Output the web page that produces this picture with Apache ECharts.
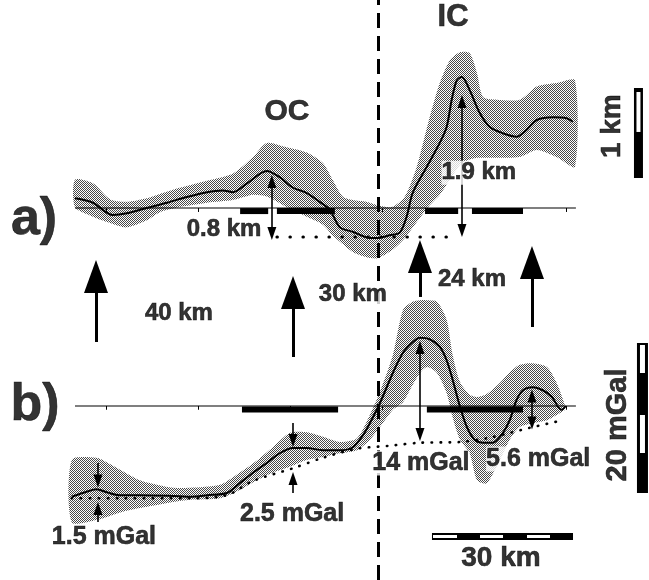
<!DOCTYPE html>
<html>
<head>
<meta charset="utf-8">
<script src="https://cdn.jsdelivr.net/npm/echarts@6/dist/echarts.min.js"></script>
<style>
  html, body { margin: 0; padding: 0; background: #fff; }
  #chart { width: 649px; height: 580px; }
</style>
</head>
<body>
<div id="chart"></div>
<script>
// distance along the profile in km (0 near the dashed line)
// a) relief in km, b) gravity in mGal
const aDist = [-66.7,-62.8,-58.5,-55.4,-51.1,-46.7,-42.4,-38.0,-34.6,-32.4,-29.3,-25.0,-22.2,-19.3,-16.3,-13.5,-11.3,-9.1,-6.3,-2.6,-0.9,1.7,3.9,5.4,6.7,9.8,12.6,14.1,15.2,16.3,17.4,19.1,21.3,23.5,26.3,29.3,31.5,33.7,37.2,40.2,41.5];
const aMean = [0.11,0.06,-0.08,-0.06,0,0.06,0.125,0.18,0.20,0.18,0.28,0.42,0.35,0.23,0.17,0.07,-0.02,-0.22,-0.27,-0.34,-0.34,-0.31,-0.28,-0.10,0.17,0.47,0.74,0.92,1.23,1.45,1.49,1.34,1.08,0.92,0.85,0.81,0.89,1.0,1.03,1.02,0.98];

const aEnvDist = [-66.7,-62.8,-59.1,-55.4,-51.1,-48.3,-43.9,-38.0,-32.4,-28.0,-25.0,-20.7,-16.3,-12.8,-10.7,-8.5,-6.3,-3.3,-0.9,2.2,5.0,7.6,10.4,12.6,14.8,17.0,19.1,20.7,22.0,25.0,30.0,33.7,38.0,42.0];
const aUpper = [0.32,0.28,0.10,0.07,0.11,0.16,0.23,0.31,0.39,0.58,0.74,0.69,0.63,0.51,0.32,0.13,0.09,0.07,0.03,0.01,0.13,0.47,1.03,1.42,1.68,1.77,1.76,1.53,1.26,1.23,1.23,1.38,1.42,1.45];
const aLower = [0.01,-0.10,-0.17,-0.22,-0.14,-0.05,0.01,0.06,0.09,0.15,0.13,0.01,-0.10,-0.19,-0.31,-0.41,-0.50,-0.56,-0.57,-0.48,-0.34,-0.16,0.03,0.15,0.32,0.49,0.55,0.57,0.57,0.57,0.58,0.66,0.58,0.47];

const aDotDist = [-22.8, 16.6];
const aDot = [-0.33, -0.33];

const bDist = [-67.4,-65.0,-62.0,-59.8,-57.0,-52.6,-45.4,-41.7,-38.0,-33.7,-30.9,-28.0,-25.0,-22.2,-19.3,-16.3,-12.8,-9.1,-6.3,-4.1,-2.6,-0.4,2.4,4.6,6.7,8.3,10.4,12.6,14.1,15.4,17.0,18.5,20.2,22.0,24.1,26.3,27.8,29.3,30.7,32.8,35.0,37.0,38.3,39.1,40.0];
const bMean = [-12.1,-11.6,-11.1,-11.5,-11.9,-11.9,-12.0,-12.1,-11.9,-11.6,-10.3,-8.9,-7.6,-6.3,-5.6,-5.6,-5.9,-5.9,-5.5,-3.9,-2.3,0.4,4.4,7.1,8.5,9.1,8.9,7.9,6.1,3.5,-0.1,-2.8,-4.5,-4.9,-4.9,-3.6,-1.9,0.8,2.1,2.5,2.1,1.2,-0.1,-0.5,0.0];

const bEnvDist = [-67.4,-62.0,-59.8,-56.3,-52.6,-48.9,-45.4,-41.7,-35.2,-30.9,-27.2,-23.7,-20.0,-16.3,-12.8,-9.1,-5.4,-2.6,-0.4,2.4,4.6,6.7,8.3,9.8,12.0,14.1,15.4,17.0,19.1,20.7,22.8,25.7,27.8,30.0,32.8,35.9,38.0,39.8];
const bUpper = [-7.2,-6.9,-7.5,-8.7,-9.9,-10.5,-10.9,-10.9,-10.5,-8.9,-7.3,-5.5,-3.6,-3.5,-4.1,-4.8,-4.3,-1.2,1.9,6.8,12.8,13.9,14.1,14.1,13.9,11.5,6.8,3.2,1.5,1.2,1.6,3.1,4.5,5.5,5.7,5.2,3.1,0.1];
const bLower = [-15.5,-15.2,-14.8,-14.1,-13.6,-13.2,-12.8,-12.5,-12.3,-11.2,-9.9,-8.9,-8.1,-7.2,-6.8,-6.3,-5.9,-4.5,-2.8,-0.5,0.5,2.8,4.4,5.2,4.4,1.7,-1.5,-4.5,-6.3,-9.9,-10.3,-7.2,-4.5,-2.8,-2.3,-1.9,-1.2,-0.5];

const bDotDist = [-67.4,-57.0,-41.7,-33.7,-28.0,-19.3,-12.8,-5.4,1.7,8.3,17.0,22.8,27.8,32.2,39.3];
const bDot = [-12.3,-12.3,-12.3,-11.9,-10.0,-8.3,-6.9,-5.7,-5.3,-4.9,-4.8,-4.3,-3.6,-2.9,-1.9];

const baseRange = [-66.7, 42.2];
const tickKm = [-60, -40, -20, 0, 20, 40];
const riftKm = -0.83;

// thick bars on the zero lines [from, to]
const aBars = [[-30.8,-24.7],[-22.8,-10.2],[9.4,16.6],[19.6,30.7]];
const bBars = [[-30.4,-9.5],[9.8,30.7]];

// arrows [dist, from, to]
const aArrowsBoth = [[-23.9,-0.29,0.30],[17.43,-0.256,1.21]];
const bArrowsBoth = [[8.3,-3.8,7.8],[32.65,-2.27,1.33]];
const bArrowsOne = [[-61.7,-7.6,-10.0],[-61.7,-15.47,-13.67],[-19.3,-2.27,-4.6],[-19.3,-11.6,-9.67]];
const spreadArrows = [[-62.13,-1.523,-0.778],[-19.3,-1.693,-0.96],[8.3,-1.011,-0.551],[32.65,-1.352,-0.619]];

// labels [text, dist, value]
const aLabels = [['OC',-20.6,1.09],['IC',15.5,2.16],['a)',-75.6,-0.13],['0.8 km',-34.3,-0.24],['1.9 km',21.1,0.40],['40 km',-44.1,-1.20],['30 km',-6.3,-0.98],['24 km',19.6,-0.81],['1 km',50.0,0.93]];
const bLabels = [['b)',-75.4,0.10],['1.5 mGal',-60.4,-17.47],['2.5 mGal',-19.5,-14.4],['14 mGal',8.5,-7.6],['5.6 mGal',34.0,-7.07],['20 mGal',51.35,-2.53],['30 km ',25.9,-20.27]];

const labelStyle = {
  'OC': {fontSize: 30}, 'IC': {fontSize: 31}, 'a)': {fontSize: 52}, 'b)': {fontSize: 52},
  '1.9 km': {backgroundColor: '#fff'}, '30 km': {backgroundColor: '#fff', padding: [0, 2]},
  '14 mGal': {backgroundColor: '#fff', fontSize: 25}, '5.6 mGal': {backgroundColor: '#fff', fontSize: 25},
  '1.5 mGal': {fontSize: 25}, '2.5 mGal': {fontSize: 25},
  '1 km': {fontSize: 28, rotate: 90}, '20 mGal': {fontSize: 29, rotate: 90}, '30 km ': {fontSize: 28}
};

const FONT = "'Liberation Sans', Arial, Helvetica, sans-serif";

function stipple() {
  const c = document.createElement('canvas');
  c.width = 2; c.height = 2;
  const ctx = c.getContext('2d');
  ctx.fillStyle = '#484848';
  ctx.fillRect(0, 0, 1, 1);
  ctx.fillRect(1, 1, 1, 1);
  return c;
}
const dots = stipple();

const zip = (xs, ys) => xs.map((x, i) => [x, ys[i]]);

// shaded envelope: upper edge forward, lower edge back, as one polygon
function band(g, xs, lo, hi) {
  return {type: 'custom', xAxisIndex: g, yAxisIndex: g, silent: true, z: 1,
    data: [[xs[0], lo[0]]],
    renderItem: function (params, api) {
      const pts = xs.map((x, i) => api.coord([x, hi[i]]));
      for (let i = xs.length - 1; i >= 0; i--) pts.push(api.coord([xs[i], lo[i]]));
      return {type: 'polygon', shape: {points: pts, smooth: 0.25},
        style: {fill: {image: dots, repeat: 'repeat'}}};
    }};
}

function line(g, pts, opts) {
  return Object.assign({type: 'line', xAxisIndex: g, yAxisIndex: g, data: pts, symbol: 'none',
    silent: true, z: 3, lineStyle: {color: '#000', width: 2}}, opts);
}

function marks(g, list, syms, size, width) {
  return {type: 'line', xAxisIndex: g, yAxisIndex: g, data: [], silent: true, z: 4,
    markLine: {silent: true, animation: false, symbol: syms, symbolSize: size, label: {show: false},
      lineStyle: {color: '#000', width: width, type: 'solid', opacity: 1},
      emphasis: {disabled: true},
      data: list.map(a => [{coord: [a[0], a[1]]}, {coord: [a[0], a[2]]}])}};
}

function texts(g, list) {
  return {type: 'scatter', xAxisIndex: g, yAxisIndex: g, symbolSize: 1, silent: true, z: 6,
    itemStyle: {color: 'rgba(0,0,0,0)'},
    data: list.map(t => ({name: t[0], value: [t[1], t[2]],
      label: Object.assign({show: true, position: 'inside', formatter: t[0].trim(), color: '#000',
        fontFamily: FONT, fontWeight: 'bold', fontSize: 24,
        textBorderColor: '#000', textBorderWidth: 0.6}, labelStyle[t[0]] || {})}))};
}

const series = [];
series.push(band(0, aEnvDist, aLower, aUpper));
series.push(band(1, bEnvDist, bLower, bUpper));

// zero lines
series.push(line(0, baseRange.map(x => [x, 0]), {z: 2, lineStyle: {color: '#000', width: 1.2}}));
series.push(line(1, baseRange.map(x => [x, 0]), {z: 2, lineStyle: {color: '#000', width: 1.2}}));
series.push(marks(0, tickKm.map(t => [t, 0, -0.045]), ['none', 'none'], 0, 1));
series.push(marks(1, tickKm.map(t => [t, 0, -0.5]), ['none', 'none'], 0, 1));

aBars.forEach(b => series.push(line(0, [[b[0], -0.035], [b[1], -0.035]], {z: 2, lineStyle: {color: '#000', width: 6}})));
bBars.forEach(b => series.push(line(1, [[b[0], -0.47], [b[1], -0.47]], {z: 2, lineStyle: {color: '#000', width: 6}})));

// dotted reference levels
series.push(line(0, zip(aDotDist, aDot), {lineStyle: {color: '#000', width: 3, type: [0.5, 12.5], cap: 'round'}}));
series.push(line(1, zip(bDotDist, bDot), {smooth: 0.3, lineStyle: {color: '#000', width: 2.6, type: [0.5, 8.5], cap: 'round'}}));

// mean profiles
series.push(line(0, zip(aDist, aMean), {smooth: 0.3}));
series.push(line(1, zip(bDist, bMean), {smooth: 0.3}));

// arrows
series.push(marks(0, aArrowsBoth, ['triangle', 'triangle'], [9, 13], 1.6));
series.push(marks(1, bArrowsBoth, ['triangle', 'triangle'], [9, 13], 1.6));
series.push(marks(1, bArrowsOne, ['none', 'triangle'], [9, 13], 1.6));
series.push(marks(0, spreadArrows, ['none', 'triangle'], [24, 33], 3));

// dashed boundary
series.push({type: 'line', xAxisIndex: 0, yAxisIndex: 0, data: [], silent: true, z: 4,
  markLine: {silent: true, animation: false, symbol: ['none', 'none'], label: {show: false},
    lineStyle: {color: '#000', width: 3, type: [15, 8], opacity: 1},
    data: [{xAxis: riftKm}]}});

// scale bars
series.push(line(0, [[55.8, 0.341], [55.8, 1.364]], {lineStyle: {color: '#000', width: 9}}));
series.push(line(0, [[55.8, 0.864], [55.8, 1.318]], {z: 3.5, lineStyle: {color: '#fff', width: 4}}));
series.push(line(1, [[56.67, -11.6], [56.67, 8.4]], {lineStyle: {color: '#000', width: 11}}));
[[4.4, 8.13], [-6.27, -1.2]].forEach(s =>
  series.push(line(1, [[56.67, s[0]], [56.67, s[1]]], {z: 3.5, lineStyle: {color: '#fff', width: 5}})));
series.push(line(1, [[10.91, -17.4], [41.57, -17.4]], {lineStyle: {color: '#000', width: 7}}));
[[11.13, 16.35], [21.35, 26.35], [31.57, 36.57]].forEach(s =>
  series.push(line(1, [[s[0], -17.4], [s[1], -17.4]], {z: 3.5, lineStyle: {color: '#fff', width: 3}})));

series.push(texts(0, aLabels));
series.push(texts(1, bLabels));

const xAx = g => ({type: 'value', gridIndex: g, min: -83, max: 58.09, show: false});
const chart = echarts.init(document.getElementById('chart'), null, {renderer: 'canvas'});
chart.setOption({
  animation: false,
  backgroundColor: '#fff',
  grid: [
    {left: 0, right: 0, top: 0, bottom: 0},
    {left: 0, right: 0, top: 0, bottom: 0}
  ],
  xAxis: [xAx(0), xAx(1)],
  yAxis: [
    {type: 'value', gridIndex: 0, min: -4.2273, max: 2.3636, show: false},
    {type: 'value', gridIndex: 1, min: -23.2, max: 54.133, show: false}
  ],
  series: series
});
</script>
</body>
</html>
